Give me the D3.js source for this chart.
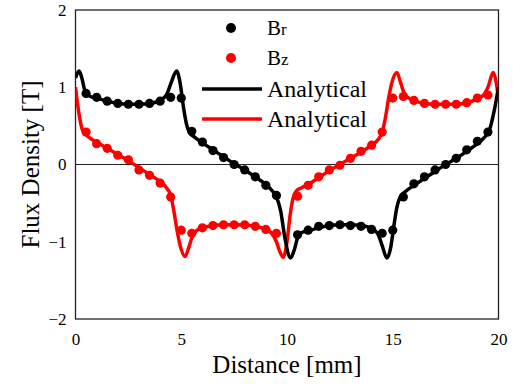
<!doctype html>
<html>
<head>
	<meta charset='utf-8'/>
	<script src="https://d3js.org/d3.v7.min.js"></script>
	<style>
		body { margin: 0; background: #fff; }
		text { font-family: "Liberation Serif", "Times New Roman", serif; fill: #000; }
	</style>
</head>
<body>
	<div id="chart"></div>
	<script>
		// measured points, every 0.5 mm
		var dotX = [0.5, 1, 1.5, 2, 2.5, 3, 3.5, 4, 4.5, 5, 5.5, 6, 6.5, 7, 7.5, 8, 8.5, 9, 9.5,
			10.5, 11, 11.5, 12, 12.5, 13, 13.5, 14, 14.5, 15, 15.5, 16, 16.5, 17, 17.5, 18, 18.5, 19, 19.5];
		var brDots = [0.92, 0.87, 0.82, 0.79, 0.78, 0.78, 0.79, 0.82, 0.87, 0.86, 0.43, 0.29, 0.18, 0.09, 0.0, -0.07, -0.16, -0.27, -0.40,
			-0.91, -0.85, -0.80, -0.79, -0.78, -0.79, -0.80, -0.84, -0.89, -0.85, -0.42, -0.25, -0.16, -0.07, 0.0, 0.08, 0.19, 0.30, 0.42];
		var bzDots = [0.42, 0.27, 0.21, 0.12, 0.06, -0.07, -0.14, -0.24, -0.42, -0.85, -0.89, -0.82, -0.79, -0.78, -0.78, -0.78, -0.80, -0.84, -0.89,
			-0.41, -0.27, -0.16, -0.07, -0.01, 0.08, 0.17, 0.25, 0.42, 0.86, 0.88, 0.83, 0.79, 0.78, 0.78, 0.78, 0.80, 0.86, 0.90];

		// analytical curves
		var brLineX = [0, 0.17, 0.3, 0.45, 0.7, 1, 1.5, 2, 2.5, 3, 3.5, 4, 4.3, 4.55, 4.78, 4.95, 5.1, 5.25, 5.4, 5.6, 6, 6.5, 7, 7.5, 8, 8.5, 9, 9.3, 9.5, 9.7, 9.9,
			10.17, 10.35, 10.5, 10.7, 11, 11.5, 12, 12.5, 13, 13.5, 14, 14.3, 14.5, 14.72, 14.9, 15.05, 15.2, 15.35, 15.6, 16, 16.5, 17, 17.5, 18, 18.5, 19, 19.3, 19.6, 19.8, 20];
		var brLineY = [1.12, 1.21, 1.12, 0.95, 0.88, 0.86, 0.82, 0.79, 0.78, 0.78, 0.79, 0.83, 0.9, 1.08, 1.21, 1.05, 0.75, 0.52, 0.41, 0.36, 0.28, 0.19, 0.1, 0.01, -0.07, -0.16, -0.26, -0.34, -0.42, -0.6, -0.95,
			-1.21, -1.1, -0.95, -0.88, -0.86, -0.82, -0.79, -0.78, -0.78, -0.79, -0.83, -0.9, -1.05, -1.21, -1.08, -0.8, -0.55, -0.42, -0.35, -0.27, -0.18, -0.09, 0.0, 0.08, 0.17, 0.27, 0.34, 0.47, 0.7, 1.0];
		var bzLineX = [0, 0.1, 0.2, 0.3, 0.45, 0.7, 1, 1.5, 2, 2.5, 3, 3.5, 4, 4.3, 4.5, 4.65, 4.8, 4.95, 5.18, 5.35, 5.5, 5.7, 6, 6.5, 7, 7.5, 8, 8.5, 9, 9.3, 9.5, 9.65, 9.82,
			10, 10.15, 10.3, 10.45, 10.7, 11, 11.5, 12, 12.5, 13, 13.5, 14, 14.3, 14.5, 14.65, 14.8, 14.95, 15.2, 15.35, 15.5, 15.7, 16, 16.5, 17, 17.5, 18, 18.5, 19, 19.3, 19.5, 19.75, 19.9, 20];
		var bzLineY = [1.0, 0.78, 0.6, 0.47, 0.4, 0.34, 0.29, 0.21, 0.13, 0.05, -0.04, -0.13, -0.22, -0.3, -0.4, -0.6, -0.85, -1.05, -1.19, -1.08, -0.95, -0.86, -0.82, -0.79, -0.78, -0.78, -0.78, -0.8, -0.84, -0.9, -1.0, -1.12, -1.2,
			-1.0, -0.65, -0.42, -0.34, -0.3, -0.26, -0.17, -0.08, 0.0, 0.08, 0.16, 0.25, 0.32, 0.42, 0.6, 0.85, 1.05, 1.19, 1.08, 0.95, 0.87, 0.83, 0.79, 0.78, 0.78, 0.78, 0.8, 0.85, 0.9, 1.0, 1.19, 1.05, 0.85];

		var xTicks = [0, 5, 10, 15, 20];
		var yTicks = [-2, -1, 0, 1, 2];
		var legendLabels = ["B", "B", "Analytical", "Analytical"];
		var legendSubs = ["r", "z", "", ""];

		var width = 513, height = 385;
		var plotLeft = 75.5, plotRight = 498.5, plotTop = 10, plotBottom = 319;

		var x = d3.scaleLinear().domain([0, 20]).range([plotLeft, plotRight]);
		var y = d3.scaleLinear().domain([-2, 2]).range([plotBottom, plotTop]);

		var svg = d3.select("#chart").append("svg")
			.attr("width", width)
			.attr("height", height);

		svg.append("defs").append("clipPath").attr("id", "plot")
			.append("rect")
			.attr("x", plotLeft).attr("y", plotTop)
			.attr("width", plotRight - plotLeft).attr("height", plotBottom - plotTop);

		// frame
		svg.append("rect")
			.attr("x", plotLeft).attr("y", plotTop)
			.attr("width", plotRight - plotLeft).attr("height", plotBottom - plotTop)
			.attr("fill", "none")
			.attr("stroke", "#222")
			.attr("stroke-width", 1.3);

		// zero line
		svg.append("line")
			.attr("x1", plotLeft).attr("x2", plotRight)
			.attr("y1", y(0)).attr("y2", y(0))
			.attr("stroke", "#222")
			.attr("stroke-width", 1.2);

		// tick labels (no tick marks in the original)
		var xAxis = d3.axisBottom(x).tickValues(xTicks).tickSize(0).tickPadding(14);
		var gx = svg.append("g").attr("transform", "translate(0," + plotBottom + ")").call(xAxis);
		gx.select(".domain").remove();
		gx.selectAll("text").style("font-family", "Liberation Serif").style("font-size", "17px").attr("fill", "#000");

		var yAxis = d3.axisLeft(y).tickValues(yTicks).tickSize(0).tickPadding(9)
			.tickFormat(d3.format("d"));
		var gy = svg.append("g").attr("transform", "translate(" + plotLeft + ",0)").call(yAxis);
		gy.select(".domain").remove();
		gy.selectAll("text").style("font-family", "Liberation Serif").style("font-size", "17px").attr("fill", "#000");

		var plot = svg.append("g").attr("clip-path", "url(#plot)");

		var line = d3.line()
			.x(function(d) { return x(d[0]); })
			.y(function(d) { return y(d[1]); })
			.curve(d3.curveMonotoneX);

		var brLine = d3.zip(brLineX, brLineY);
		var bzLine = d3.zip(bzLineX, bzLineY);

		plot.append("path").datum(bzLine)
			.attr("d", line)
			.attr("fill", "none")
			.attr("stroke", "#ff0000")
			.attr("stroke-width", 3.5);

		plot.append("path").datum(brLine)
			.attr("d", line)
			.attr("fill", "none")
			.attr("stroke", "#000")
			.attr("stroke-width", 3.5);

		plot.selectAll(".bz").data(d3.zip(dotX, bzDots)).enter()
			.append("circle")
			.attr("class", "bz")
			.attr("cx", function(d) { return x(d[0]); })
			.attr("cy", function(d) { return y(d[1]); })
			.attr("r", 4.6)
			.attr("fill", "#ff0000");

		plot.selectAll(".br").data(d3.zip(dotX, brDots)).enter()
			.append("circle")
			.attr("class", "br")
			.attr("cx", function(d) { return x(d[0]); })
			.attr("cy", function(d) { return y(d[1]); })
			.attr("r", 4.6)
			.attr("fill", "#000");

		// legend
		var legendColors = ["#000", "#ff0000", "#000", "#ff0000"];
		var legendRowY = [28, 58, 89, 119];
		var legend = svg.append("g");
		legendLabels.forEach(function(label, i) {
			if (i < 2) {
				legend.append("circle")
					.attr("cx", 231).attr("cy", legendRowY[i])
					.attr("r", 5)
					.attr("fill", legendColors[i]);
			} else {
				legend.append("line")
					.attr("x1", 202).attr("x2", 262)
					.attr("y1", legendRowY[i]).attr("y2", legendRowY[i])
					.attr("stroke", legendColors[i])
					.attr("stroke-width", 3.5);
			}
			var t = legend.append("text")
				.attr("x", 267)
				.attr("y", legendRowY[i] + (i < 2 ? 7 : 8))
				.style("font-size", i < 2 ? "21px" : "24px")
				.text(label);
			if (legendSubs[i]) {
				t.append("tspan").style("font-size", "17px").text(legendSubs[i]);
			}
		});

		// axis titles
		svg.append("text")
			.attr("x", (plotLeft + plotRight) / 2)
			.attr("y", 373)
			.attr("text-anchor", "middle")
			.style("font-size", "25px")
			.text("Distance [mm]");

		svg.append("text")
			.attr("transform", "translate(39," + ((plotTop + plotBottom) / 2) + ") rotate(-90)")
			.attr("text-anchor", "middle")
			.style("font-size", "25px")
			.text("Flux Density [T]");
	</script>
</body>
</html>
